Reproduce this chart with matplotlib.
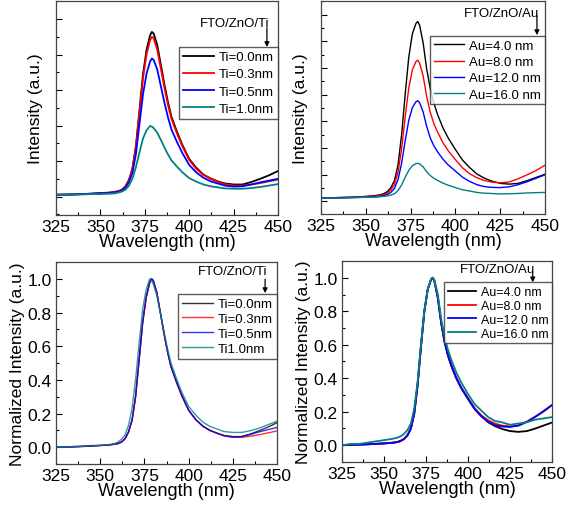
import matplotlib
matplotlib.use('Agg')
import matplotlib.pyplot as plt
import numpy as np
from matplotlib.ticker import MultipleLocator

plt.rcParams['font.family'] = ['Liberation Sans', 'DejaVu Sans']

# wavelength grid (nm)
wl = np.array([325, 330, 335, 340, 345, 350, 355, 358, 360, 362, 364, 366, 368, 370,
               372, 374, 376, 378, 379, 380, 382, 384, 386, 388, 390, 393, 396, 400,
               404, 408, 412, 416, 420, 425, 430, 435, 440, 445, 450])

# FTO/ZnO/Ti raw PL intensity (a.u.)
ti_00 = [0.05, 0.06, 0.06, 0.07, 0.08, 0.10, 0.11, 0.13, 0.15, 0.19, 0.28, 0.46, 0.78, 1.43,
         2.44, 3.45, 4.14, 4.55, 4.64, 4.59, 4.27, 3.72, 3.17, 2.67, 2.25, 1.84, 1.47, 1.06,
         0.81, 0.62, 0.51, 0.43, 0.37, 0.34, 0.34, 0.41, 0.50, 0.60, 0.72]
ti_03 = [0.05, 0.05, 0.06, 0.07, 0.08, 0.09, 0.11, 0.13, 0.15, 0.18, 0.27, 0.45, 0.76, 1.39,
         2.36, 3.34, 4.01, 4.41, 4.50, 4.46, 4.14, 3.61, 3.08, 2.59, 2.19, 1.79, 1.43, 1.03,
         0.78, 0.61, 0.50, 0.42, 0.35, 0.31, 0.31, 0.34, 0.38, 0.43, 0.48]
ti_05 = [0.05, 0.05, 0.06, 0.07, 0.08, 0.09, 0.10, 0.12, 0.13, 0.17, 0.24, 0.40, 0.66, 1.20,
         2.05, 2.89, 3.47, 3.81, 3.89, 3.85, 3.58, 3.12, 2.66, 2.24, 1.89, 1.55, 1.24, 0.89,
         0.68, 0.53, 0.43, 0.37, 0.31, 0.28, 0.29, 0.34, 0.40, 0.45, 0.50]
ti_10 = [0.05, 0.05, 0.06, 0.06, 0.07, 0.07, 0.08, 0.09, 0.11, 0.14, 0.19, 0.30, 0.50, 0.83,
         1.25, 1.64, 1.87, 1.99, 1.97, 1.93, 1.80, 1.60, 1.39, 1.19, 1.02, 0.85, 0.69, 0.52,
         0.42, 0.34, 0.29, 0.26, 0.23, 0.22, 0.22, 0.24, 0.27, 0.31, 0.35]

# FTO/ZnO/Au raw PL intensity (a.u.)
au_4 = [0.11, 0.12, 0.14, 0.15, 0.16, 0.18, 0.21, 0.24, 0.28, 0.36, 0.51, 0.77, 1.37, 2.50,
        4.02, 5.41, 6.28, 6.67, 6.74, 6.61, 5.94, 4.95, 4.22, 3.68, 3.26, 2.76, 2.37, 1.94,
        1.54, 1.26, 1.02, 0.87, 0.76, 0.67, 0.64, 0.67, 0.77, 0.89, 1.01]
au_8 = [0.11, 0.12, 0.13, 0.14, 0.15, 0.17, 0.19, 0.21, 0.24, 0.31, 0.42, 0.63, 1.09, 1.97,
        3.17, 4.25, 4.93, 5.24, 5.29, 5.19, 4.70, 3.92, 3.33, 2.91, 2.60, 2.20, 1.89, 1.56,
        1.25, 1.03, 0.88, 0.78, 0.72, 0.69, 0.72, 0.84, 0.99, 1.15, 1.35]
au_12 = [0.11, 0.12, 0.12, 0.13, 0.14, 0.15, 0.16, 0.18, 0.21, 0.25, 0.33, 0.48, 0.81, 1.43,
         2.27, 3.04, 3.51, 3.73, 3.77, 3.70, 3.35, 2.80, 2.37, 2.08, 1.86, 1.58, 1.36, 1.13,
         0.90, 0.74, 0.62, 0.55, 0.52, 0.51, 0.54, 0.62, 0.73, 0.86, 0.99]
au_16 = [0.11, 0.12, 0.12, 0.13, 0.14, 0.15, 0.16, 0.17, 0.18, 0.20, 0.23, 0.28, 0.40, 0.61,
         0.90, 1.16, 1.33, 1.41, 1.42, 1.40, 1.29, 1.10, 0.96, 0.86, 0.78, 0.68, 0.60, 0.51,
         0.43, 0.38, 0.33, 0.30, 0.29, 0.27, 0.28, 0.29, 0.31, 0.32, 0.33]

colors = ['black', '#ff0000', '#0000ff', '#008080']
ti_series = [ti_00, ti_03, ti_05, ti_10]
au_series = [au_4, au_8, au_12, au_16]
ti_labels = ['Ti=0.0nm', 'Ti=0.3nm', 'Ti=0.5nm', 'Ti=1.0nm']
ti_labels_norm = ['Ti=0.0nm', 'Ti=0.3nm', 'Ti=0.5nm', 'Ti1.0nm']
au_labels = ['Au=4.0 nm', 'Au=8.0 nm', 'Au=12.0 nm', 'Au=16.0 nm']


def norm(y):
    y = np.asarray(y)
    return (y - y.min()) / (y.max() - y.min())


fig = plt.figure(figsize=(5.67, 5.06), dpi=100)
ax1 = fig.add_axes([0.0988, 0.5731, 0.3915, 0.4229])
ax2 = fig.add_axes([0.5661, 0.5751, 0.3951, 0.4209])
ax3 = fig.add_axes([0.0988, 0.0810, 0.3898, 0.3992])
ax4 = fig.add_axes([0.6032, 0.0850, 0.3704, 0.3972])


def style(ax):
    ax.set_xlim(325, 450)
    ax.xaxis.set_major_locator(MultipleLocator(25))
    ax.xaxis.set_minor_locator(MultipleLocator(12.5))
    ax.tick_params(which='both', direction='in', top=False, right=False, labelsize=12.5)
    ax.tick_params(which='major', length=4, width=0.8, pad=3)
    ax.tick_params(which='minor', length=2.5, width=0.8)
    ax.set_xlabel('Wavelength (nm)', fontsize=13, labelpad=-1)
    for s in ax.spines.values():
        s.set_linewidth(0.9)
        s.set_color('#444444')


def add_legend(ax, labels_top, hl=2.3, fs=9.5, ls=0.2):
    ax.legend(loc='upper right', bbox_to_anchor=(1.0, labels_top), fontsize=fs, frameon=True,
              fancybox=False, edgecolor='#333333', handlelength=hl, borderpad=0.3,
              labelspacing=ls, handletextpad=0.4, borderaxespad=0)


def tag(ax, text, x, ytext, y0, y1):
    ax.text(x + 0.01, ytext, text, transform=ax.transAxes, ha='right', va='center', fontsize=9.5)
    ax.annotate('', xy=(x, y1), xytext=(x, y0), xycoords='axes fraction',
                arrowprops=dict(arrowstyle='-|>', color='black', lw=0.9, mutation_scale=7,
                                shrinkA=0, shrinkB=0))


# top left: raw Ti
for y, c, lab in zip(ti_series, colors, ti_labels):
    ax1.plot(wl, y, color=c, lw=1.3, label=lab)
style(ax1)
ax1.set_ylim(-0.52, 5.51)
ax1.yaxis.set_major_locator(MultipleLocator(1))
ax1.yaxis.set_minor_locator(MultipleLocator(0.5))
ax1.set_yticklabels([])
ax1.set_ylabel('Intensity (a.u.)', fontsize=12.5, labelpad=6)
add_legend(ax1, 0.785, ls=0.38)
tag(ax1, 'FTO/ZnO/Ti', 0.95, 0.895, 0.875, 0.785)

# top right: raw Au
for y, c, lab in zip(au_series, colors, au_labels):
    ax2.plot(wl, y, color=c, lw=1.0, label=lab)
style(ax2)
ax2.set_ylim(-0.48, 7.51)
ax2.yaxis.set_major_locator(MultipleLocator(1))
ax2.yaxis.set_minor_locator(MultipleLocator(0.5))
ax2.set_yticklabels([])
ax2.set_ylabel('Intensity (a.u.)', fontsize=12.5, labelpad=6)
add_legend(ax2, 0.837, ls=0.3)
tag(ax2, 'FTO/ZnO/Au', 0.964, 0.945, 0.93, 0.84)

# bottom left: normalized Ti
for y, c, lab in zip(ti_series, colors, ti_labels_norm):
    ax3.plot(wl, norm(y), color=c, lw=1.0, alpha=0.8, label=lab)
style(ax3)
ax3.set_ylim(-0.1, 1.1)
ax3.yaxis.set_major_locator(MultipleLocator(0.2))
ax3.yaxis.set_minor_locator(MultipleLocator(0.1))
ax3.set_ylabel('Normalized Intensity (a.u.)', fontsize=12.5, labelpad=2)
add_legend(ax3, 0.842, ls=0.2)
tag(ax3, 'FTO/ZnO/Ti', 0.946, 0.957, 0.915, 0.846)

# bottom right: normalized Au
for y, c, lab in zip(au_series, colors, au_labels):
    ax4.plot(wl, norm(y), color=c, lw=1.3, label=lab)
style(ax4)
ax4.set_ylim(-0.1, 1.1)
ax4.yaxis.set_major_locator(MultipleLocator(0.2))
ax4.yaxis.set_minor_locator(MultipleLocator(0.1))
ax4.set_ylabel('Normalized Intensity (a.u.)', fontsize=12.5, labelpad=2)
add_legend(ax4, 0.894, hl=2.2, fs=9, ls=0.15)
tag(ax4, 'FTO/ZnO/Au', 0.908, 0.962, 0.94, 0.894)

fig.savefig('out.png', dpi=100)
